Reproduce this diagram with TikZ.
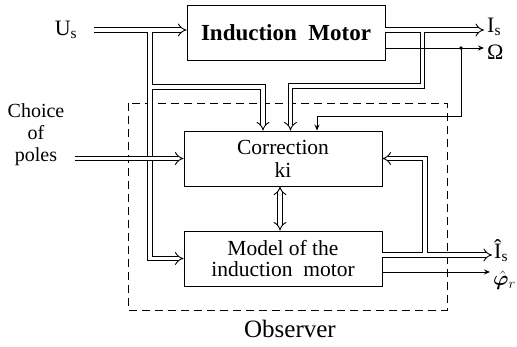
\documentclass[tikz,border=0pt]{standalone}
\usepackage{bm}
\usepackage{fontspec}
\setmainfont{Liberation Serif}
\usetikzlibrary{positioning,arrows.meta,calc}

\begin{document}
\begin{tikzpicture}[x=1pt,y=-1pt,
  box/.style={draw,line width=0.9pt,minimum width=198pt,minimum height=55pt,align=center,font=\fontsize{21.5}{21}\selectfont},
  lbl/.style={inner sep=0pt,font=\fontsize{22}{22}\selectfont},
  dbl/.style={double,double distance=3.6pt,line width=0.9pt},
  dblarr/.style={dbl,-{Implies[scale=1.3]}},
  core/.style={white,line width=3.6pt},
  sig/.style={line width=0.9pt,-{Stealth[length=6pt,width=5pt]}}]
\useasboundingbox (0,0) rectangle (517,347);
% observer frame
\draw[line width=0.9pt,dash pattern=on 8pt off 5pt] (128,103) rectangle (447,310);
\node[lbl,font=\fontsize{25}{24}\selectfont] (obs) at (290,329) {Observer};
% blocks
\node[box,font=\fontsize{23}{24}\selectfont\bfseries] (im) at (286,32.5) {Induction~ Motor};
\node[box,font=\fontsize{21.5}{23}\selectfont] (cor) at (283,158.5) {Correction\\ki};
\node[box] (mod) at (283,258.5) {Model of the\\induction~ motor};
% inputs and outputs
\node[lbl] (us) at (66,30) {U\textsubscript{s}};
\node[lbl,anchor=west] (is) at (487,27) {I\textsubscript{s}};
\node[lbl,anchor=west] (om) at (487,52) {Ω};
\node[lbl,anchor=west] (ish) at (494,251) {\^{I}\textsubscript{s}};
\node[lbl,anchor=west] (phi) at (493,280) {$\hat{\bm\varphi}_{r}$};
\node[lbl,align=center,font=\fontsize{20}{22}\selectfont] (poles) at (36,135) {Choice\\of\\poles};
% branch points
\coordinate (jus) at (150,30);
\coordinate (jcor) at (150,87);
\coordinate (b1) at (263,87);
\coordinate (jis) at (422.5,30);
\coordinate (lis) at (484,30);
\coordinate (b2) at (290.5,86);
\coordinate (jom) at (461,48);
\coordinate (lom) at (484,48);
\coordinate (b3) at (317,116);
\coordinate (jish) at (425,255);
\coordinate (jphi) at (425,272);
% stator voltage
\draw[dblarr,shorten <=17pt] (us.east) -- (us.east-|im.west);
\draw[dblarr] (jus) |- (mod.west);
\draw[core] ($(jus)+(-4,0)$) -- ($(jus)+(4,0)$);
\draw[dblarr] (jcor) -- (b1) -- (b1|-cor.north);
\draw[core] ($(jcor)+(0,-4)$) -- ($(jcor)+(0,4)$);
% measured current and speed
\draw[dblarr] (im.east|-lis) -- (lis);
\draw[dblarr] (jis) |- (b2) -- (b2|-cor.north);
\draw[core] ($(jis)+(-4,0)$) -- ($(jis)+(4,0)$);
\draw[sig] (im.east|-lom) -- (lom);
\fill (jom) circle (1.8pt);
\draw[sig] (jom) |- (b3) -- (b3|-cor.north);
% estimated outputs
\draw[dblarr,shorten >=2pt] (mod.east|-jish) -- (jish-|ish.west);
\draw[dblarr] (jish) |- (cor.east);
\draw[core] ($(jish)+(-4,0)$) -- ($(jish)+(4,0)$);
\draw[sig,shorten >=3pt] (mod.east|-jphi) -- (jphi-|phi.west);
% poles and gain
\draw[dblarr,shorten <=10pt] (poles.east|-cor.west) -- (cor.west);
\draw[dbl,{Implies[scale=1.3]}-{Implies[scale=1.3]}] ([xshift=-3pt]cor.south) -- ([xshift=-3pt]mod.north);
\end{tikzpicture}
\end{document}
